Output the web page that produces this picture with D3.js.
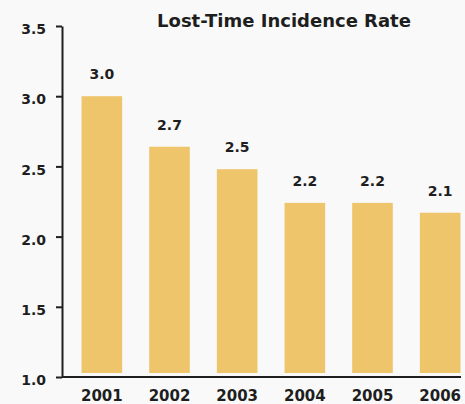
<!DOCTYPE html>
<html>
<head>
<meta charset="utf-8">
<script src="https://cdnjs.cloudflare.com/ajax/libs/d3/7.8.5/d3.min.js"></script>
<style>
  body { margin: 0; background: #f8f9f8; }
  svg { display: block; }
  text { font-family: "DejaVu Sans", sans-serif; font-weight: bold; fill: #1e1e1e; }
</style>
</head>
<body>
<div id="chart"></div>
<script>
// chart data
var years = ["2001", "2002", "2003", "2004", "2005", "2006"];
var rates = [3.0, 2.64, 2.48, 2.24, 2.24, 2.17];
var rateLabels = ["3.0", "2.7", "2.5", "2.2", "2.2", "2.1"];
var yTicks = [1.0, 1.5, 2.0, 2.5, 3.0, 3.5];

var svgWidth = 465;
var svgHeight = 404;

var svg = d3.select("#chart")
  .append("svg")
  .attr("width", svgWidth)
  .attr("height", svgHeight);

// scales
var x = d3.scaleBand()
  .domain(years)
  .range([68, 474])
  .paddingInner(0.4)
  .paddingOuter(0.2);

var y = d3.scaleLinear()
  .domain([1.0, 3.5])
  .range([377, 26]);

var axisX = 62;

// title
svg.append("text")
  .attr("x", 284)
  .attr("y", 27)
  .attr("text-anchor", "middle")
  .style("font-size", "18px")
  .text("Lost-Time Incidence Rate");

// bars
svg.append("g")
  .selectAll("rect")
  .data(rates)
  .enter()
  .append("rect")
  .attr("x", (d, i) => x(years[i]))
  .attr("width", x.bandwidth())
  .attr("y", d => y(d))
  .attr("height", d => y(1.0) - 4 - y(d))
  .attr("fill", "#efc56c");

// value labels over bars
svg.append("g")
  .selectAll("text")
  .data(rates)
  .enter()
  .append("text")
  .attr("x", (d, i) => x(years[i]) + x.bandwidth() / 2)
  .attr("y", d => y(d) - 17)
  .attr("text-anchor", "middle")
  .style("font-size", "14px")
  .text((d, i) => rateLabels[i]);

// y axis
var leftAxis = d3.axisLeft(y)
  .tickValues(yTicks)
  .tickFormat(d3.format(".1f"))
  .tickSize(6)
  .tickSizeOuter(0)
  .tickPadding(10);

var yAxis = svg.append("g")
  .attr("transform", `translate(${axisX}, 0)`)
  .call(leftAxis);

yAxis.select(".domain").attr("stroke", "#1e1e1e").attr("stroke-width", 2);
yAxis.selectAll(".tick line").attr("stroke", "#1e1e1e").attr("stroke-width", 2);
yAxis.selectAll(".tick text")
  .attr("dy", "0.55em")
  .style("font-size", "14px")
  .attr("fill", "#1e1e1e");

// x axis line and year labels
svg.append("line")
  .attr("x1", axisX)
  .attr("x2", 461)
  .attr("y1", y(1.0))
  .attr("y2", y(1.0))
  .attr("stroke", "#1e1e1e")
  .attr("stroke-width", 2);

svg.append("g")
  .selectAll("text")
  .data(years)
  .enter()
  .append("text")
  .attr("x", d => x(d) + x.bandwidth() / 2)
  .attr("y", 401)
  .attr("text-anchor", "middle")
  .style("font-size", "15px")
  .text(d => d);
</script>
</body>
</html>
